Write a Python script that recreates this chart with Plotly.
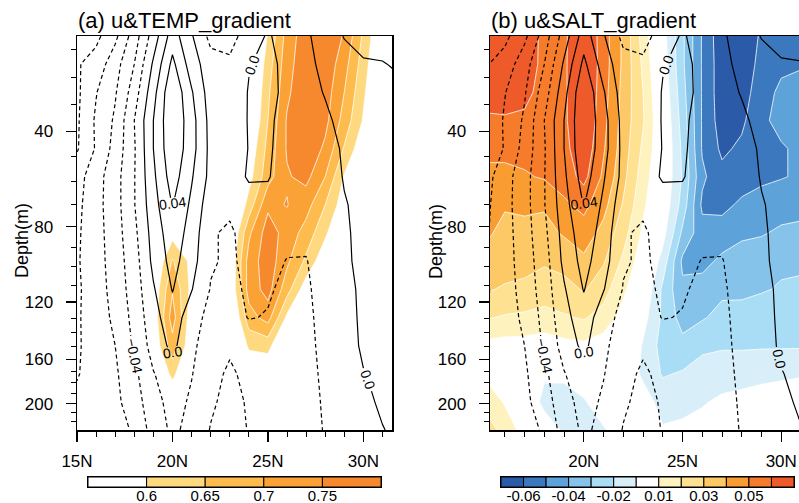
import numpy as np
import plotly.graph_objects as go

# ---------------- data ----------------
LATS = list(range(15, 33))  # 15N .. 32N, 1 degree
DEPTHS = [5.01, 15.07, 25.28, 35.76, 46.61, 57.98, 70.02, 82.92, 96.92,
          112.32, 129.49, 148.96, 171.4, 197.79, 229.48]

# zonal current u (black contour lines), rows = depth levels, cols = LATS
U = [
    [-0.115, -0.105, -0.085, -0.05, -0.011, 0.03, 0.002, -0.026, -0.028, -0.01, 0.002, -0.008, -0.003, 0.009, 0.021, 0.027, 0.028, 0.03],
    [-0.102, -0.092, -0.068, -0.04, 0.003, 0.045, 0.01, -0.012, -0.016, -0.001, 0.005, -0.005, -0.004, 0.004, 0.012, 0.018, 0.019, 0.023],
    [-0.104, -0.081, -0.062, -0.03, 0.013, 0.058, 0.022, -0.01, -0.012, 0.001, 0.006, -0.005, -0.006, 0.001, 0.008, 0.012, 0.014, 0.016],
    [-0.103, -0.077, -0.057, -0.02, 0.02, 0.058, 0.028, -0.007, -0.01, 0.001, 0.003, -0.006, -0.009, -0.003, 0.005, 0.009, 0.011, 0.012],
    [-0.102, -0.078, -0.053, -0.022, 0.02, 0.056, 0.028, -0.006, -0.009, 0.0005, 0.002, -0.006, -0.01, -0.006, 0.002, 0.007, 0.009, 0.01],
    [-0.088, -0.068, -0.048, -0.021, 0.016, 0.05, 0.022, -0.006, -0.009, 0.002, 0.001, -0.007, -0.011, -0.008, 0.001, 0.006, 0.008, 0.009],
    [-0.085, -0.067, -0.048, -0.021, 0.012, 0.041, 0.016, -0.012, -0.016, -0.008, -0.005, -0.009, -0.012, -0.007, -0.001, 0.004, 0.006, 0.007],
    [-0.083, -0.068, -0.049, -0.025, 0.008, 0.032, 0.012, -0.018, -0.023, -0.012, -0.008, -0.013, -0.015, -0.008, -0.0015, 0.003, 0.005, 0.006],
    [-0.082, -0.069, -0.05, -0.029, 0.005, 0.027, 0.008, -0.018, -0.023, -0.015, -0.012, -0.021, -0.021, -0.009, -0.002, 0.003, 0.004, 0.005],
    [-0.083, -0.07, -0.052, -0.031, -0.002, 0.021, 0.001, -0.021, -0.025, -0.017, -0.018, -0.024, -0.023, -0.012, -0.003, 0.002, 0.003, 0.004],
    [-0.082, -0.072, -0.055, -0.034, -0.007, 0.012, -0.012, -0.026, -0.029, -0.019, -0.021, -0.026, -0.024, -0.014, -0.004, 0.002, 0.002, 0.003],
    [-0.082, -0.073, -0.06, -0.037, -0.012, 0.005, -0.016, -0.03, -0.037, -0.033, -0.03, -0.028, -0.024, -0.016, -0.006, 0.002, 0.003, 0.004],
    [-0.081, -0.074, -0.063, -0.045, -0.021, -0.009, -0.019, -0.034, -0.043, -0.035, -0.032, -0.029, -0.025, -0.017, -0.008, -0.0005, 0.003, 0.004],
    [-0.077, -0.073, -0.065, -0.049, -0.028, -0.012, -0.023, -0.037, -0.046, -0.038, -0.034, -0.03, -0.026, -0.018, -0.01, -0.003, 0.002, 0.003],
    [-0.076, -0.075, -0.072, -0.056, -0.032, -0.016, -0.026, -0.041, -0.048, -0.039, -0.035, -0.031, -0.026, -0.019, -0.012, -0.006, -0.0005, 0.003],
]

# panel (a) shading
TEMP_GRAD = [
    [0.5, 0.5, 0.5, 0.5, 0.5, 0.5, 0.5, 0.5, 0.5, 0.5, 0.605, 0.72, 0.78, 0.79, 0.745, 0.64, 0.54, 0.5],
    [0.5, 0.5, 0.5, 0.5, 0.5, 0.5, 0.5, 0.5, 0.5, 0.51, 0.625, 0.73, 0.785, 0.785, 0.72, 0.625, 0.53, 0.5],
    [0.5, 0.5, 0.5, 0.5, 0.5, 0.5, 0.5, 0.5, 0.5, 0.52, 0.64, 0.74, 0.79, 0.775, 0.7, 0.61, 0.52, 0.5],
    [0.5, 0.5, 0.5, 0.5, 0.5, 0.5, 0.5, 0.5, 0.5, 0.53, 0.65, 0.755, 0.795, 0.765, 0.68, 0.595, 0.51, 0.5],
    [0.5, 0.5, 0.5, 0.5, 0.5, 0.5, 0.5, 0.5, 0.5, 0.56, 0.665, 0.755, 0.79, 0.74, 0.645, 0.56, 0.5, 0.5],
    [0.5, 0.5, 0.5, 0.5, 0.5, 0.5, 0.5, 0.5, 0.5, 0.58, 0.68, 0.745, 0.765, 0.7, 0.595, 0.53, 0.5, 0.5],
    [0.5, 0.5, 0.5, 0.5, 0.5, 0.5, 0.5, 0.5, 0.51, 0.62, 0.74, 0.752, 0.72, 0.65, 0.57, 0.51, 0.5, 0.5],
    [0.5, 0.5, 0.5, 0.5, 0.5, 0.58, 0.5, 0.48, 0.53, 0.69, 0.775, 0.73, 0.68, 0.61, 0.53, 0.5, 0.5, 0.5],
    [0.5, 0.5, 0.5, 0.5, 0.54, 0.655, 0.585, 0.48, 0.55, 0.72, 0.78, 0.71, 0.64, 0.56, 0.5, 0.5, 0.5, 0.5],
    [0.5, 0.5, 0.5, 0.5, 0.56, 0.695, 0.585, 0.5, 0.55, 0.72, 0.77, 0.67, 0.57, 0.5, 0.5, 0.5, 0.5, 0.5],
    [0.5, 0.5, 0.5, 0.5, 0.565, 0.725, 0.565, 0.5, 0.52, 0.68, 0.72, 0.59, 0.52, 0.5, 0.5, 0.5, 0.5, 0.5],
    [0.5, 0.5, 0.5, 0.5, 0.56, 0.68, 0.56, 0.5, 0.5, 0.61, 0.62, 0.52, 0.5, 0.5, 0.5, 0.5, 0.5, 0.5],
    [0.5, 0.5, 0.5, 0.5, 0.53, 0.615, 0.53, 0.5, 0.5, 0.55, 0.55, 0.5, 0.5, 0.5, 0.5, 0.5, 0.5, 0.5],
    [0.5, 0.5, 0.5, 0.5, 0.5, 0.55, 0.5, 0.5, 0.5, 0.5, 0.5, 0.5, 0.5, 0.5, 0.5, 0.5, 0.5, 0.5],
    [0.5, 0.5, 0.5, 0.5, 0.5, 0.5, 0.5, 0.5, 0.5, 0.5, 0.5, 0.5, 0.5, 0.5, 0.5, 0.5, 0.5, 0.5],
]

# panel (b) shading
SALT_GRAD = [
    [0.076, 0.073, 0.067, 0.057, 0.058, 0.07, 0.055, 0.038, 0.016, -0.006, -0.028, -0.051, -0.067, -0.07, -0.058, -0.055, -0.054, -0.052],
    [0.075, 0.072, 0.066, 0.057, 0.058, 0.071, 0.055, 0.038, 0.018, -0.004, -0.028, -0.051, -0.066, -0.068, -0.056, -0.052, -0.051, -0.048],
    [0.068, 0.064, 0.063, 0.056, 0.058, 0.071, 0.054, 0.037, 0.02, -0.002, -0.026, -0.051, -0.066, -0.065, -0.054, -0.048, -0.046, -0.045],
    [0.057, 0.059, 0.058, 0.055, 0.058, 0.07, 0.053, 0.036, 0.021, 0.0, -0.024, -0.051, -0.065, -0.062, -0.052, -0.047, -0.045, -0.044],
    [0.052, 0.052, 0.053, 0.053, 0.057, 0.067, 0.051, 0.035, 0.018, 0.001, -0.022, -0.051, -0.062, -0.058, -0.052, -0.051, -0.048, -0.046],
    [0.048, 0.048, 0.049, 0.051, 0.055, 0.063, 0.048, 0.033, 0.015, 0.0, -0.021, -0.048, -0.057, -0.055, -0.052, -0.0505, -0.049, -0.047],
    [0.045, 0.041, 0.042, 0.041, 0.048, 0.053, 0.043, 0.029, 0.012, -0.002, -0.024, -0.052, -0.053, -0.048, -0.046, -0.045, -0.044, -0.043],
    [0.042, 0.037, 0.037, 0.037, 0.041, 0.045, 0.037, 0.024, 0.008, -0.006, -0.032, -0.046, -0.045, -0.042, -0.041, -0.038, -0.037, -0.036],
    [0.037, 0.034, 0.033, 0.031, 0.034, 0.038, 0.031, 0.018, 0.004, -0.014, -0.042, -0.043, -0.038, -0.035, -0.033, -0.032, -0.031, -0.031],
    [0.031, 0.029, 0.028, 0.026, 0.026, 0.031, 0.024, 0.012, 0.0, -0.022, -0.038, -0.036, -0.032, -0.033, -0.031, -0.029, -0.029, -0.028],
    [0.021, 0.019, 0.018, 0.016, 0.019, 0.021, 0.016, 0.006, -0.006, -0.022, -0.034, -0.031, -0.027, -0.025, -0.024, -0.023, -0.022, -0.022],
    [0.007, 0.006, 0.006, 0.005, 0.007, 0.008, 0.005, 0.002, -0.011, -0.024, -0.027, -0.022, -0.021, -0.021, -0.021, -0.021, -0.021, -0.021],
    [0.008, 0.004, -0.002, -0.009, -0.008, -0.004, -0.002, -0.002, -0.012, -0.021, -0.019, -0.016, -0.015, -0.015, -0.013, -0.012, -0.011, -0.011],
    [0.017, 0.009, -0.004, -0.012, -0.014, -0.011, -0.004, 0.002, -0.005, -0.014, -0.013, -0.011, -0.008, -0.006, -0.005, -0.004, -0.004, -0.004],
    [0.026, 0.016, 0.006, -0.006, -0.011, -0.014, -0.011, -0.004, -0.003, -0.009, -0.008, -0.006, -0.005, -0.004, -0.003, -0.002, -0.002, -0.002],
]

TEMP_LEVELS = [0.6, 0.65, 0.7, 0.75]
TEMP_COLORS = ["#FFFFFF", "#FED97F", "#FDBC4D", "#FBA236", "#F6892D"]
SALT_LEVELS = [-0.06, -0.05, -0.04, -0.03, -0.02, -0.01, 0.01, 0.02, 0.03, 0.04, 0.05, 0.06]
SALT_COLORS = ["#2A5AA8", "#3C78BE", "#5DA2D8", "#86C3EA", "#A9DCF5", "#D8EEF8", "#FFFFFF",
               "#FEF2BF", "#FEE291", "#FDC966", "#F99C31", "#F67C2B", "#EE5A29"]

U_LINE_GROUPS = [  # (levels, dashed, labelled, label format)
    ([-0.10, -0.08, -0.06], True, False, ".2f"),
    ([-0.04], True, True, ".2f"),
    ([-0.02], True, False, ".2f"),
    ([0.0], False, True, ".1f"),
    ([0.02], False, False, ".2f"),
    ([0.04], False, True, ".2f"),
]

DEPTH_TICKS = [40, 80, 120, 160, 200]
DEPTH_MINOR = [10, 20, 30, 50, 60, 70, 90, 100, 110, 130, 140, 150, 170, 180, 190, 210, 220]
LAT_TICKS = [15, 20, 25, 30]
TITLES = ["(a) u&TEMP_gradient", "(b) u&SALT_gradient"]

# ---------------- helpers ----------------
FONT = "Liberation Sans, Arial, Helvetica, sans-serif"
W, H = 799, 503
LEVEL_IDX = np.arange(len(DEPTHS))


def depth_to_axis(d):
    return np.interp(d, DEPTHS, LEVEL_IDX)


def fill_trace(z, levels, colors, xa, ya):
    step = round(float(np.min(np.diff(levels))), 6)
    plot_levels = np.round(np.arange(levels[0], levels[-1] + step / 2, step), 6)
    nc = len(plot_levels)
    band = [colors[0]]
    for lv in plot_levels:
        band.append(colors[int(np.searchsorted(levels, lv + step / 2))])
    cs = []
    for k in range(nc):
        lo = 0.0 if k == 0 else (k - 0.25) / nc
        hi = (k + 0.75) / nc
        cs += [[lo, band[k]], [hi, band[k]]]
    cs += [[(nc - 0.25) / nc, band[nc]], [1.0, band[nc]]]
    return go.Contour(
        x=LATS, y=LEVEL_IDX, z=z, xaxis=xa, yaxis=ya,
        autocontour=False,
        contours=dict(start=float(plot_levels[0]), end=float(plot_levels[-1]), size=step,
                      coloring="fill", showlines=True),
        colorscale=cs, showscale=False,
        line=dict(color="white", width=0.8, smoothing=0),
        hoverinfo="skip",
    )


def line_traces(xa, ya):
    out = []
    for levels, dashed, labelled, fmt in U_LINE_GROUPS:
        out.append(go.Contour(
            x=LATS, y=LEVEL_IDX, z=U, xaxis=xa, yaxis=ya,
            autocontour=False,
            contours=dict(start=levels[0], end=levels[-1], size=0.02, coloring="none",
                          showlabels=labelled, labelformat=fmt,
                          labelfont=dict(family=FONT, size=14, color="black")),
            line=dict(color="black", width=1.2, smoothing=0,
                      dash="4px,3px" if dashed else "solid"),
            showscale=False, hoverinfo="skip",
        ))
    return out


def colorbar_trace(colors, xa, ya):
    return go.Bar(
        x=list(range(len(colors))), y=[1] * len(colors), width=1,
        marker=dict(color=colors, line=dict(color="black", width=1)),
        xaxis=xa, yaxis=ya, hoverinfo="skip", showlegend=False, cliponaxis=False,
    )


fig = go.Figure()
fig.add_trace(fill_trace(TEMP_GRAD, TEMP_LEVELS, TEMP_COLORS, "x", "y"))
for t in line_traces("x", "y"):
    fig.add_trace(t)
fig.add_trace(fill_trace(SALT_GRAD, SALT_LEVELS, SALT_COLORS, "x2", "y2"))
for t in line_traces("x2", "y2"):
    fig.add_trace(t)
fig.add_trace(colorbar_trace(TEMP_COLORS, "x3", "y3"))
fig.add_trace(colorbar_trace(SALT_COLORS, "x4", "y4"))

ytop, ybot = 36, 430
ydom = [(H - ybot) / H, (H - ytop) / H]

yaxis_common = dict(
    domain=ydom, range=[len(DEPTHS) - 1, 0], automargin=False,
    tickmode="array", tickvals=list(depth_to_axis(DEPTH_TICKS)),
    ticktext=[str(d) for d in DEPTH_TICKS],
    ticks="outside", ticklen=10, tickwidth=1.3, tickcolor="black",
    minor=dict(tickmode="array", tickvals=list(depth_to_axis(DEPTH_MINOR)),
               ticks="outside", ticklen=5, tickwidth=1, tickcolor="black", showgrid=False),
    showline=True, linecolor="black", linewidth=1.5,
    showgrid=False, zeroline=False,
    tickfont=dict(family=FONT, size=17, color="black"),
    ticklabelstandoff=9,
)


def xaxis_common(rng, dom):
    majors = [v for v in LAT_TICKS if rng[0] <= v <= rng[1]]
    minors = [v for v in range(int(np.ceil(rng[0])), int(np.floor(rng[1])) + 1) if v not in LAT_TICKS]
    return dict(
        domain=dom, range=rng, automargin=False, tickmode="array", tickvals=majors,
        ticktext=[f"{v}N" for v in majors],
        ticks="outside", ticklen=10, tickwidth=1.3, tickcolor="black",
        minor=dict(tickmode="array", tickvals=minors, ticks="outside", ticklen=5,
                   tickwidth=1, tickcolor="black", showgrid=False),
        showline=True, linecolor="black", linewidth=1.5, mirror=True,
        showgrid=False, zeroline=False,
        tickfont=dict(family=FONT, size=17, color="black"),
        ticklabelstandoff=5,
    )


def cbar_axes(colors, levels, x0, x1):
    n = len(colors)
    step = 1 if n <= 6 else 2
    xa = dict(domain=[x0 / W, x1 / W], range=[-0.5, n - 0.5], automargin=False,
              tickmode="array",
              tickvals=[i + 0.5 for i in range(0, len(levels), step)],
              ticktext=[f"{levels[i]:g}" for i in range(0, len(levels), step)],
              ticks="", ticklen=0, showline=True, mirror=True, linecolor="black", linewidth=1,
              showgrid=False, zeroline=False, ticklabelstandoff=-5,
              tickfont=dict(family=FONT, size=15, color="black"))
    ya = dict(domain=[(H - 487) / H, (H - 477) / H], range=[0, 1], showticklabels=False,
              automargin=False,
              ticks="", showline=True, mirror=True, linecolor="black", linewidth=1,
              showgrid=False, zeroline=False)
    return xa, ya


xa3, ya3 = cbar_axes(TEMP_COLORS, TEMP_LEVELS, 88, 381)
xa4, ya4 = cbar_axes(SALT_COLORS, SALT_LEVELS, 501, 794)
ya3["anchor"] = "x3"
xa3["anchor"] = "y3"
ya4["anchor"] = "x4"
xa4["anchor"] = "y4"

fig.update_layout(
    width=W, height=H, margin=dict(l=0, r=0, t=0, b=0, autoexpand=False),
    paper_bgcolor="white", plot_bgcolor="white", showlegend=False, bargap=0,
    font=dict(family=FONT, color="black"),
    xaxis=dict(**xaxis_common([15, 31.5], [77 / W, 392 / W]), anchor="y"),
    yaxis=dict(**yaxis_common, anchor="x", mirror=True),
    xaxis2=dict(**xaxis_common([15.25, 30.9], [490 / W, 1.0]), anchor="y2"),
    yaxis2=dict(**yaxis_common, anchor="x2", mirror=False),
    xaxis3=xa3, yaxis3=ya3, xaxis4=xa4, yaxis4=ya4,
)

ann = []
for title, x0 in zip(TITLES, [76, 489]):
    ann.append(dict(text=title, x=x0 / W, y=(H - 35) / H, xref="paper", yref="paper",
                    xanchor="left", yanchor="bottom", showarrow=False,
                    font=dict(family=FONT, size=22, color="black")))
for xc in [22, 436]:
    ann.append(dict(text="Depth(m)", x=xc / W, y=(H - 241) / H, xref="paper", yref="paper",
                    xanchor="center", yanchor="middle", showarrow=False, textangle=-90,
                    font=dict(family=FONT, size=18, color="black")))
fig.update_layout(annotations=ann)

fig.write_html(
    "out.html",
    config={"displayModeBar": False, "staticPlot": True},
    post_script="document.body.style.margin='0px';document.body.style.overflow='hidden';",
)
